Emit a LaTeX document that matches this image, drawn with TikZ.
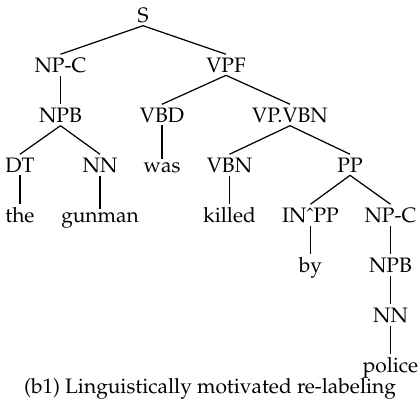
\documentclass[tikz,border=0pt]{standalone}
\usepackage[T1]{fontenc}
\usepackage{mathpazo}
\usepackage{tikz}

\begin{document}
\begin{tikzpicture}[every node/.style={anchor=base,inner sep=1.5pt,font=\fontsize{11.9}{14.3}\selectfont},line width=0.7pt]
			\useasboundingbox (0,0) rectangle (8.4,8.16);
			\node (S) at (2.86,7.72) {S};
			\node (NPC) at (1.21,6.72) {NP-C};
			\node (VPF) at (4.52,6.72) {VPF};
			\node (NPB) at (1.21,5.72) {NPB};
			\node (VBD) at (3.24,5.72) {VBD};
			\node (VPVBN) at (5.80,5.72) {VP.VBN};
			\node (DT) at (0.40,4.72) {DT};
			\node (NN) at (2.00,4.72) {NN};
			\node (was) at (3.24,4.72) {was};
			\node (VBN) at (4.59,4.72) {VBN};
			\node (PP) at (7.00,4.72) {PP};
			\node (the) at (0.40,3.72) {the};
			\node (gunman) at (2.00,3.72) {gunman};
			\node (killed) at (4.59,3.72) {killed};
			\node (INPP) at (6.21,3.72) {IN\^{}PP};
			\node (NPC') at (7.81,3.72) {NP-C};
			\node (by) at (6.21,2.72) {by};
			\node (NPB') at (7.81,2.72) {NPB};
			\node (NN') at (7.81,1.72) {NN};
			\node (police) at (7.81,0.72) {police};
			\node (cap) at (4.20,0.30) {(b1) Linguistically motivated re-labeling};
			%
			\path[-]
				(S.south) edge (NPC.north)
				(S.south) edge (VPF.north)
				(NPC.south) edge (NPB.north)
				(NPB.south) edge (DT.north)
				(NPB.south) edge (NN.north)
				(DT.south) edge (the.north)
				(NN.south) edge (gunman.north)
				(VPF.south) edge (VBD.north)
				(VPF.south) edge (VPVBN.north)
				(VBD.south) edge (was.north)
				(VPVBN.south) edge (VBN.north)
				(VPVBN.south) edge (PP.north)
				(VBN.south) edge (killed.north)
				(PP.south) edge (INPP.north)
				(PP.south) edge (NPC'.north)
				(INPP.south) edge (by.north)
				(NPC'.south) edge (NPB'.north)
				(NPB'.south) edge (NN'.north)
				(NN'.south) edge (police.north);
		\end{tikzpicture}
\end{document}
